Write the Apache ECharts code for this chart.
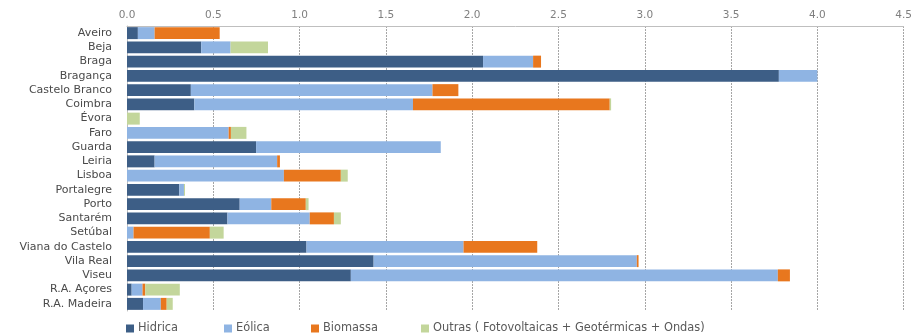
<!DOCTYPE html>
<html>
<head>
<meta charset="utf-8">
<script src="https://cdn.jsdelivr.net/npm/echarts@6/dist/echarts.min.js"></script>
<style>
  html, body { margin: 0; padding: 0; background: #fff; }
  #chart { width: 915px; height: 333px; }
</style>
</head>
<body>
<div id="chart"></div>
<script>
// districts, top to bottom
const districts = ['Aveiro', 'Beja', 'Braga', 'Bragança', 'Castelo Branco', 'Coimbra', 'Évora', 'Faro',
  'Guarda', 'Leiria', 'Lisboa', 'Portalegre', 'Porto', 'Santarém', 'Setúbal', 'Viana do Castelo',
  'Vila Real', 'Viseu', 'R.A. Açores', 'R.A. Madeira']

const seriesNames = ['Hidrica', 'Eólica', 'Biomassa', 'Outras ( Fotovoltaicas + Geotérmicas + Ondas)']

const hidrica  = [0.063, 0.43, 2.063, 3.777, 0.37, 0.39, 0, 0, 0.748, 0.16, 0, 0.303, 0.653, 0.582, 0, 1.04, 1.429, 1.297, 0.027, 0.093]
const eolica   = [0.097, 0.17, 0.29, 0.223, 1.40, 1.267, 0, 0.589, 1.07, 0.71, 0.909, 0.027, 0.183, 0.477, 0.038, 0.91, 1.525, 2.474, 0.063, 0.103]
const biomassa = [0.377, 0, 0.046, 0, 0.15, 1.14, 0, 0.013, 0, 0.016, 0.33, 0, 0.2, 0.14, 0.442, 0.427, 0.01, 0.07, 0.016, 0.034]
const outras   = [0, 0.217, 0, 0, 0, 0.008, 0.074, 0.09, 0, 0, 0.04, 0.006, 0.016, 0.04, 0.08, 0, 0, 0, 0.2, 0.035]

const xTicks = { min: 0, max: 4.5, interval: 0.5 }

const font = 'DejaVu Sans'
const colors = ['#3d5e86', '#8fb4e3', '#e8771e', '#c3d69b']
const legendLeft = [121, 219, 306, 416]

const chart = echarts.init(document.getElementById('chart'))

function bar(i, data) {
  return {
    name: seriesNames[i],
    type: 'bar',
    stack: 'total',
    data: data,
    barCategoryGap: '16%',
    itemStyle: { color: colors[i] },
    emphasis: { disabled: true }
  }
}

// one legend per item so each sits where the original puts it
const legends = seriesNames.map((n, i) => ({
  left: legendLeft[i],
  top: 318,
  itemWidth: 8,
  itemHeight: 8,
  icon: 'rect',
  selectedMode: false,
  textStyle: { fontSize: 11.4, color: '#595959', fontFamily: font, padding: [0, 0, 0, -1] },
  data: [n]
}))

chart.setOption({
  animation: false,
  textStyle: { fontFamily: font },
  grid: { left: 127, right: 2, top: 26, bottom: 22, containLabel: false },
  legend: legends,
  xAxis: {
    type: 'value',
    position: 'top',
    min: xTicks.min,
    max: xTicks.max,
    interval: xTicks.interval,
    axisLine: { show: true, lineStyle: { color: '#bfbfbf' } },
    axisTick: { show: false },
    axisLabel: {
      fontSize: 10.5, color: '#7f7f7f', margin: 5, fontFamily: font,
      formatter: v => v.toFixed(1)
    },
    splitLine: { show: true, lineStyle: { color: '#a6a6a6', type: [2, 1], width: 1 } }
  },
  yAxis: {
    type: 'category',
    inverse: true,
    data: districts,
    axisLine: { show: true, lineStyle: { color: '#bfbfbf' } },
    axisTick: { show: false },
    axisLabel: { interval: 0, fontSize: 11, color: '#4a4a4a', margin: 15, fontFamily: font }
  },
  series: [
    bar(0, hidrica),
    bar(1, eolica),
    bar(2, biomassa),
    bar(3, outras)
  ]
})
</script>
</body>
</html>
